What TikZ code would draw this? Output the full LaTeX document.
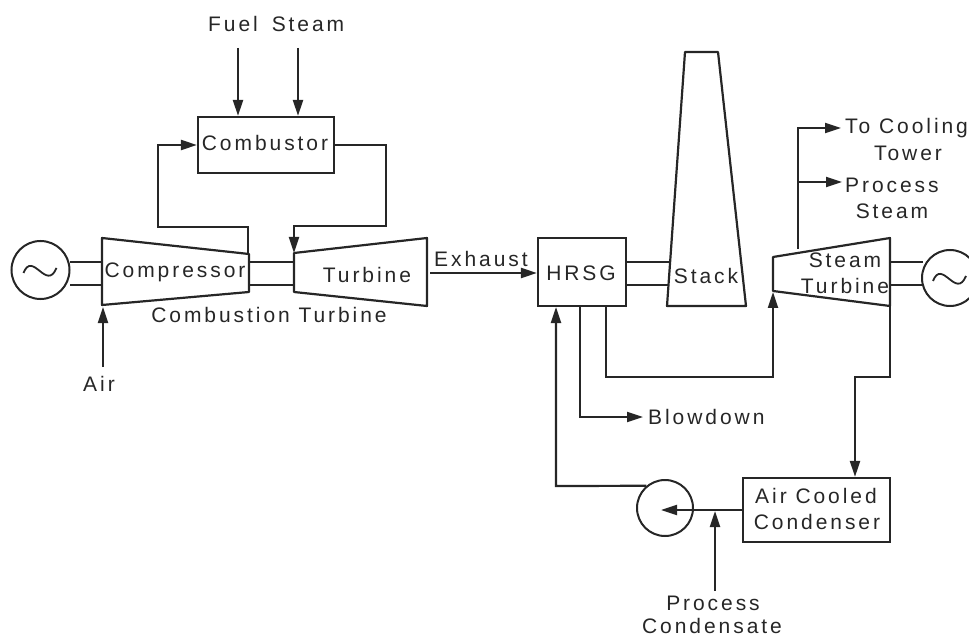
\documentclass[tikz,border=0pt]{standalone}
\usepackage{fontspec}
\setmainfont[LetterSpace=14]{Liberation Sans}
\usetikzlibrary{arrows.meta}
\tikzset{
  pipe/.style={line width=2.2pt, black!85},
  flow/.style={pipe, -{Triangle[length=16pt,width=10pt]}},
  unit/.style={draw=black!85, line width=2.2pt, rectangle, inner sep=0pt},
  rotor/.style={draw=black!85, line width=2pt, circle, inner sep=0pt},
  lbl/.style={inner sep=0pt, text=black!85, font=\fontsize{21}{25}\selectfont}
}
\begin{document}
\begin{tikzpicture}[x=1pt, y=-1pt]
    \clip (0,0) rectangle (969,636);

    % Boxes and rotating machines
    \node[unit, minimum width=136pt, minimum height=56pt] (combustor) at (266,145) {};
    \node[unit, minimum width=88pt, minimum height=68pt] (hrsg) at (582,272) {};
    \node[unit, minimum width=147pt, minimum height=64pt] (condenser) at (816.5,510) {};
    \node[rotor, minimum size=58pt] (gen1) at (40.5,270) {};
    \node[rotor, minimum size=56pt] (gen2) at (950,278) {};
    \node[rotor, minimum size=56pt] (pump) at (665,508) {};

    % Tapered shapes
    \coordinate (compa) at (102,238);
    \coordinate (compb) at (249,254);
    \coordinate (compc) at (249,292);
    \coordinate (compd) at (102,305);
    \coordinate (turba) at (294,253);
    \coordinate (turbb) at (427,238);
    \coordinate (turbc) at (427,306);
    \coordinate (turbd) at (294,292);
    \coordinate (stacka) at (685,52);
    \coordinate (stackb) at (718,52);
    \coordinate (stackc) at (746,306);
    \coordinate (stackd) at (667,306);
    \coordinate (stura) at (773,257);
    \coordinate (sturb) at (890,238);
    \coordinate (sturc) at (890,306);
    \coordinate (sturd) at (773,291);
    \draw[pipe, line join=round] (compa) -- (compb) -- (compc) -- (compd) -- cycle;
    \draw[pipe, line join=round] (turba) -- (turbb) -- (turbc) -- (turbd) -- cycle;
    \draw[pipe, line join=round] (stacka) -- (stackb) -- (stackc) -- (stackd) -- cycle;
    \draw[pipe, line join=round] (stura) -- (sturb) -- (sturc) -- (sturd) -- cycle;

    % Labels
    \node[lbl] (lblfuel) at (233,24) {Fuel};
    \node[lbl] (lblsteam) at (308,24) {Steam};
    \node[lbl] at (265,143) {Combustor};
    \node[lbl] at (175,272) {Compressor};
    \node[lbl] at (367,275) {Turbine};
    \node[lbl] at (269,315) {Combustion Turbine};
    \node[lbl] at (481,259) {Exhaust};
    \node[lbl] (lblair) at (99,384) {Air};
    \node[lbl] at (581,273) {HRSG};
    \node[lbl] at (706,276) {Stack};
    \node[lbl] at (845,260) {Steam};
    \node[lbl] at (845,286) {Turbine};
    \node[lbl, anchor=west] (lblcool) at (845,128) {To Cooling};
    \node[lbl] at (908,153) {Tower};
    \node[lbl, anchor=west] (lblproc) at (845,185) {Process};
    \node[lbl] at (892,211) {Steam};
    \node[lbl, anchor=west] (lblblow) at (648,417) {Blowdown};
    \node[lbl] at (816,496) {Air Cooled};
    \node[lbl] at (817,522) {Condenser};
    \node[lbl] at (713,603) {Process};
    \node[lbl] at (712,626) {Condensate};

    % Generator symbols
    \foreach \g in {gen1,gen2}
        \draw[pipe, line width=1.8pt, shift={(\g)}] (-17,3) .. controls (-8,-20) and (6,22) .. (16,-2);

    % Shafts
    \foreach \yy in {262,285} {
        \coordinate (sa) at (70,\yy); \coordinate (sb) at (102,\yy);
        \coordinate (sc) at (249,\yy); \coordinate (sd) at (294,\yy);
        \coordinate (se) at (626,\yy); \coordinate (sf) at (669,\yy);
        \coordinate (sg) at (890,\yy); \coordinate (sh) at (923,\yy);
        \draw[pipe] (sa) -- (sb);
        \draw[pipe] (sc) -- (sd);
        \draw[pipe] (se) -- (sf);
        \draw[pipe] (sg) -- (sh);
    }

    % Fuel and air side
    \coordinate (fueltop) at (238,48);
    \coordinate (steamtop) at (298,48);
    \coordinate (airtop) at (103,367);
    \coordinate (airtip) at (103,307);
    \draw[flow] (fueltop) -- (fueltop |- combustor.north);
    \draw[flow] (steamtop) -- (steamtop |- combustor.north);
    \draw[flow] (airtop) -- (airtip);

    \coordinate (compout) at (248,254);
    \coordinate (bendl) at (158,227);
    \coordinate (bendr) at (386,226);
    \draw[flow] (compout) |- (bendl) |- (combustor.west);
    \draw[flow] (combustor.east) -| (bendr) -| (turba);

    % Exhaust
    \coordinate (exh) at (430,273);
    \draw[flow] (exh) -- (exh -| hrsg.west);

    % Steam cycle
    \coordinate (hrsgout) at (606,306);
    \coordinate (stin) at (773,292);
    \coordinate (bendb) at (690,377);
    \draw[flow] (hrsgout) |- (bendb) -| (stin);

    \coordinate (blowst) at (580,306);
    \coordinate (blowend) at (643,417);
    \draw[flow] (blowst) |- (blowend);

    \coordinate (stout) at (798,249);
    \coordinate (cooltip) at (841,128);
    \coordinate (proctip) at (842,182);
    \draw[flow] (stout) |- (cooltip);
    \draw[flow] (stout |- proctip) -- (proctip);

    \coordinate (exitpt) at (855,377);
    \draw[flow] (sturc) |- (exitpt) -- (exitpt |- condenser.north);

    % Condensate return
    \coordinate (bendf) at (556,486);
    \coordinate (pumptip) at (661,510);
    \coordinate (hrsgin) at (556,307);
    \coordinate (condin) at (715,591);
    \coordinate (condtip) at (715,511);
    \draw[flow] (pump.130) -- (bendf) -- (hrsgin);
    \draw[flow] (condenser.west) -- (pumptip);
    \draw[flow] (condin) -- (condtip);
\end{tikzpicture}
\end{document}
